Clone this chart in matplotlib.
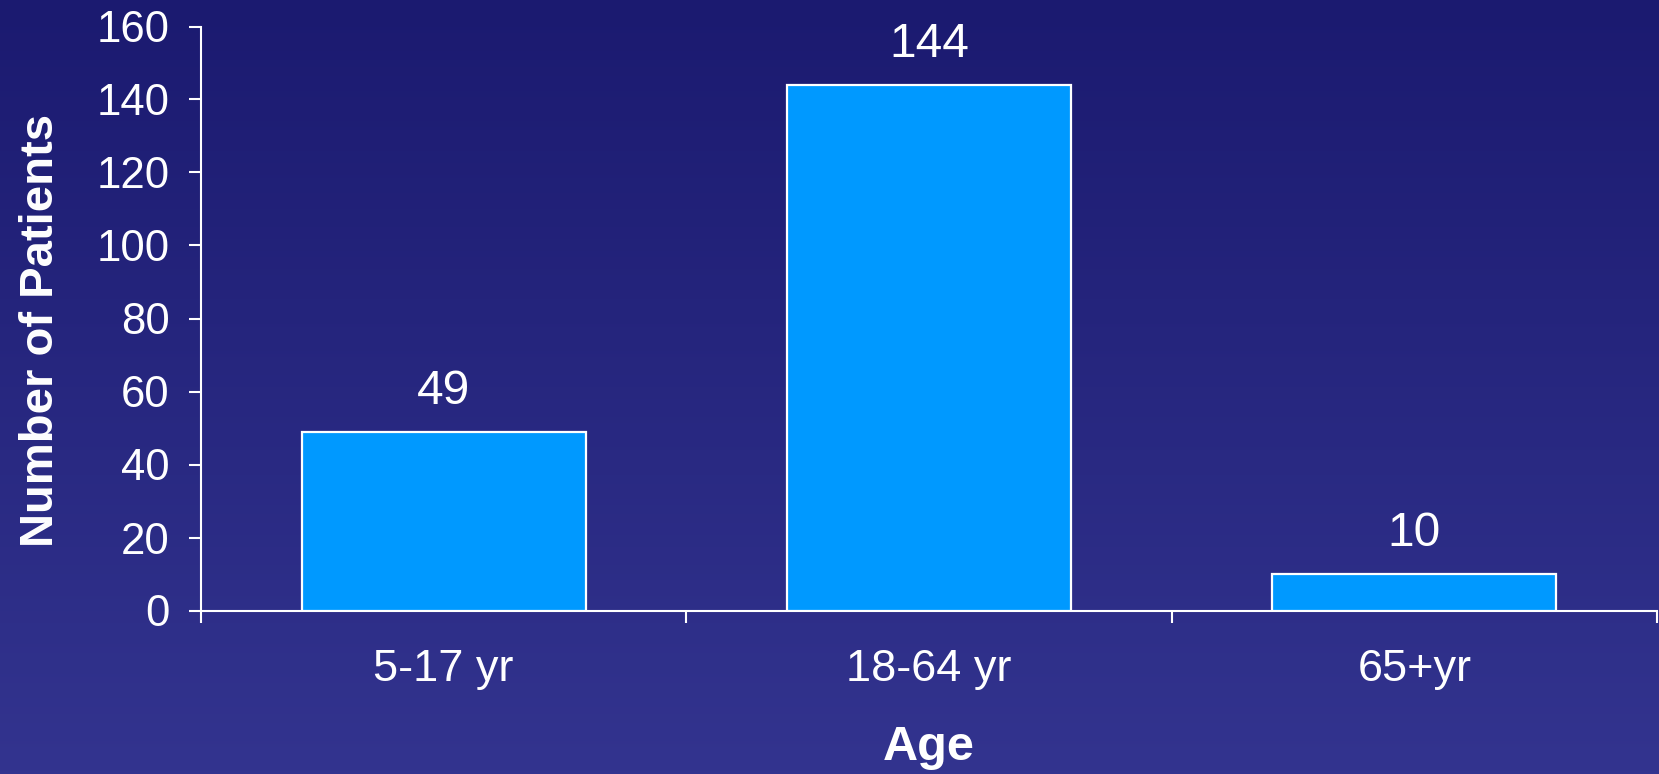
import numpy as np
import matplotlib
matplotlib.use("Agg")
import matplotlib.pyplot as plt
from matplotlib.colors import LinearSegmentedColormap

# Data
categories = ["5-17 yr", "18-64 yr", "65+yr"]
patients = [49, 144, 10]
y_ticks = [0, 20, 40, 60, 80, 100, 120, 140, 160]

plt.rcParams["font.family"] = ["Liberation Sans", "DejaVu Sans"]

W, H, DPI = 1659, 774, 100
fig = plt.figure(figsize=(W / DPI, H / DPI), dpi=DPI)

# Vertical gradient background
bg = fig.add_axes([0, 0, 1, 1], zorder=-10)
cmap = LinearSegmentedColormap.from_list("bg", ["#1b1a70", "#33348f"])
grad = np.linspace(0, 1, 256).reshape(-1, 1)
bg.imshow(grad, aspect="auto", cmap=cmap, extent=[0, 1, 1, 0])
bg.set_xlim(0, 1)
bg.set_ylim(1, 0)
bg.axis("off")

left, right = 201 / W, 1657 / W
bottom, top = 1 - 610.5 / H, 1 - 26.5 / H
ax = fig.add_axes([left, bottom, right - left, top - bottom])
ax.patch.set_alpha(0)

x = np.arange(len(categories))
bars = ax.bar(x, patients, width=0.585, color="#0099ff",
              edgecolor="white", linewidth=1.6, zorder=3)

for xi, v in zip(x, patients):
    ax.annotate(str(v), (xi, v), xytext=(0, 20), textcoords="offset points",
                ha="center", va="baseline", color="white", fontsize=34.5)

ax.set_xlim(-0.5, len(categories) - 0.5)
ax.set_ylim(0, 160)
ax.set_yticks(y_ticks)
ax.set_yticklabels([str(t) for t in y_ticks])

# Category ticks sit between the bars; labels are centred under each bar
ax.set_xticks(np.arange(len(categories) + 1) - 0.5)
ax.set_xticklabels([])
ax.set_xticks(x, minor=True)
ax.set_xticklabels(categories, minor=True)
ax.tick_params(axis="x", which="minor", length=0, pad=28, labelsize=32.5,
               labelcolor="white")
ax.tick_params(axis="x", which="major", direction="out", length=8.5,
               width=1.5, color="white")
ax.tick_params(axis="y", direction="out", length=8.5, width=1.5,
               color="white", labelcolor="white", labelsize=31.5, pad=14)

for side in ("top", "right"):
    ax.spines[side].set_visible(False)
for side in ("left", "bottom"):
    ax.spines[side].set_color("white")
    ax.spines[side].set_linewidth(1.5)

ax.set_xlabel("Age", fontsize=35, fontweight="bold", color="white",
              va="center")
ax.xaxis.set_label_coords(0.5, -0.235)
ax.set_ylabel("Number of Patients", fontsize=34, fontweight="bold",
              color="white", va="center")
ax.yaxis.set_label_coords(-0.110, 0.48)

fig.savefig("out.png", dpi=DPI)
